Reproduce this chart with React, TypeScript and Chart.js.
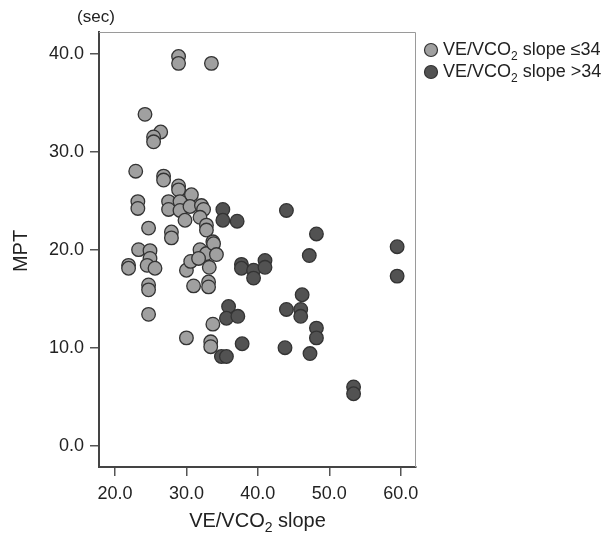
import { useEffect, useRef } from 'react';
import { Chart, registerables } from 'chart.js';

Chart.register(...registerables);

// VE/VCO2 slope <= 34
const lowX = [28.9, 28.9, 33.5, 24.2, 26.4, 25.4, 25.4, 22.9, 26.8, 26.8, 28.9, 28.9, 30.7, 23.2, 23.2, 27.5, 27.5, 29.1, 29.1, 29.8, 30.5, 32.1, 32.4, 31.9, 32.8, 32.8, 24.7, 27.9, 27.9, 33.7, 23.3, 24.9, 24.9, 24.5, 25.6, 21.9, 21.9, 30.0, 30.6, 31.9, 32.8, 33.8, 34.2, 31.7, 33.2, 31.0, 33.1, 33.1, 24.7, 24.7, 24.7, 33.7, 30.0, 33.4, 33.4];
const lowY = [39.7, 39.0, 39.0, 33.8, 32.0, 31.5, 31.0, 28.0, 27.5, 27.1, 26.5, 26.1, 25.6, 24.9, 24.2, 24.9, 24.1, 24.9, 24.0, 23.0, 24.4, 24.5, 24.1, 23.3, 22.5, 22.0, 22.2, 21.8, 21.2, 20.8, 20.0, 19.9, 19.1, 18.4, 18.1, 18.4, 18.1, 17.9, 18.8, 20.0, 19.6, 20.6, 19.5, 19.1, 18.2, 16.3, 16.7, 16.2, 16.4, 15.9, 13.4, 12.4, 11.0, 10.6, 10.1];

// VE/VCO2 slope > 34
const highX = [35.1, 35.1, 37.1, 44.0, 48.2, 59.5, 59.5, 47.2, 37.7, 37.7, 39.4, 39.4, 41.0, 41.0, 35.9, 35.6, 37.2, 37.8, 34.9, 35.6, 46.2, 44.0, 46.0, 46.0, 48.2, 48.2, 43.8, 47.3, 53.4, 53.4];
const highY = [24.1, 23.0, 22.9, 24.0, 21.6, 20.3, 17.3, 19.4, 18.5, 18.1, 17.9, 17.1, 18.9, 18.2, 14.2, 13.0, 13.2, 10.4, 9.1, 9.1, 15.4, 13.9, 13.9, 13.2, 12.0, 11.0, 10.0, 9.4, 6.0, 5.3];

const xTicks = [20, 30, 40, 50, 60];
const yTicks = [0, 10, 20, 30, 40];
const seriesLabels = ['VE/VCO2 slope ≤34', 'VE/VCO2 slope >34'];
const xTitle = 'VE/VCO2 slope';
const yTitle = 'MPT';
const yUnit = '(sec)';

const FONT = "'Liberation Sans', Arial, Helvetica, sans-serif";
const LIGHT = '#a0a0a0';
const DARK = '#525252';
const EDGE = '#333333';

function drawRich(ctx: CanvasRenderingContext2D, text: string, x: number, y: number, size: number, align: 'left' | 'center') {
  // subscript the "2" in "CO2"
  const parts: { t: string; sub: boolean }[] = [];
  const idx = text.indexOf('CO2');
  if (idx >= 0) {
    parts.push({ t: text.slice(0, idx + 2), sub: false });
    parts.push({ t: '2', sub: true });
    parts.push({ t: text.slice(idx + 3), sub: false });
  } else {
    parts.push({ t: text, sub: false });
  }
  const subSize = Math.round(size * 0.68);
  let total = 0;
  for (const p of parts) {
    ctx.font = `${p.sub ? subSize : size}px ${FONT}`;
    total += ctx.measureText(p.t).width;
  }
  let cx = align === 'center' ? x - total / 2 : x;
  ctx.textAlign = 'left';
  ctx.textBaseline = 'middle';
  for (const p of parts) {
    ctx.font = `${p.sub ? subSize : size}px ${FONT}`;
    ctx.fillText(p.t, cx, p.sub ? y + size * 0.38 : y);
    cx += ctx.measureText(p.t).width;
  }
}

const decorPlugin = {
  id: 'decor',
  beforeDatasetsDraw(chart: any) {
    const { ctx, chartArea } = chart;
    ctx.save();
    ctx.strokeStyle = '#9a9a9a';
    ctx.lineWidth = 1;
    ctx.beginPath();
    ctx.moveTo(chartArea.left, chartArea.top + 0.5);
    ctx.lineTo(chartArea.right - 0.5, chartArea.top + 0.5);
    ctx.lineTo(chartArea.right - 0.5, chartArea.bottom);
    ctx.stroke();
    ctx.restore();
  },
  afterDraw(chart: any) {
    const { ctx, chartArea } = chart;
    ctx.save();
    ctx.fillStyle = '#222222';
    // unit label
    ctx.font = `17px ${FONT}`;
    ctx.textAlign = 'center';
    ctx.textBaseline = 'middle';
    ctx.fillText(yUnit, 96, 17);
    // y title
    ctx.save();
    ctx.translate(21, 251);
    ctx.rotate(-Math.PI / 2);
    ctx.font = `20px ${FONT}`;
    ctx.fillText(yTitle, 0, 0);
    ctx.restore();
    // x title
    drawRich(ctx, xTitle, (chartArea.left + chartArea.right) / 2, 521, 20, 'center');
    // legend
    const colors = [LIGHT, DARK];
    const rows = [50, 72];
    seriesLabels.forEach((lab, i) => {
      ctx.beginPath();
      ctx.arc(431, rows[i], 6.5, 0, Math.PI * 2);
      ctx.fillStyle = colors[i];
      ctx.fill();
      ctx.lineWidth = 1.2;
      ctx.strokeStyle = EDGE;
      ctx.stroke();
      ctx.fillStyle = '#222222';
      drawRich(ctx, lab, 443, rows[i], 18, 'left');
    });
    ctx.restore();
  },
};

export default function App() {
  const ref = useRef<HTMLCanvasElement | null>(null);
  useEffect(() => {
    document.body.style.margin = '0';
    const canvas = ref.current;
    if (!canvas) return;
    const toPts = (xs: number[], ys: number[]) => xs.map((x, i) => ({ x, y: ys[i] }));
    const chart = new Chart(canvas, {
      type: 'scatter',
      data: {
        datasets: [
          {
            label: seriesLabels[0],
            data: toPts(lowX, lowY),
            backgroundColor: LIGHT,
            borderColor: EDGE,
            borderWidth: 1.3,
            pointRadius: 6.8,
          },
          {
            label: seriesLabels[1],
            data: toPts(highX, highY),
            backgroundColor: DARK,
            borderColor: EDGE,
            borderWidth: 1.3,
            pointRadius: 6.8,
          },
        ],
      },
      options: {
        responsive: false,
        animation: false,
        events: [],
        layout: { padding: { left: 0, top: 32, right: 194, bottom: 0 } },
        plugins: { legend: { display: false }, tooltip: { enabled: false }, title: { display: false } },
        scales: {
          x: {
            type: 'linear',
            min: 17.76,
            max: 62.14,
            afterBuildTicks: (axis: any) => {
              axis.ticks = xTicks.map((v) => ({ value: v }));
            },
            afterFit: (scale: any) => {
              scale.height = 79;
            },
            ticks: {
              color: '#222222',
              font: { family: FONT, size: 18 },
              padding: 7,
              maxRotation: 0,
              callback: (v: any) => Number(v).toFixed(1),
            },
            grid: { drawOnChartArea: false, drawTicks: true, tickLength: 9, color: '#555555', lineWidth: 1.5 },
            border: { display: true, color: '#444444', width: 2 },
          },
          y: {
            type: 'linear',
            min: -2.17,
            max: 42.2,
            afterBuildTicks: (axis: any) => {
              axis.ticks = yTicks.map((v) => ({ value: v }));
            },
            afterFit: (scale: any) => {
              scale.width = 99;
            },
            ticks: {
              color: '#222222',
              font: { family: FONT, size: 18 },
              padding: 6,
              callback: (v: any) => Number(v).toFixed(1),
            },
            grid: { drawOnChartArea: false, drawTicks: true, tickLength: 9, color: '#555555', lineWidth: 1.5 },
            border: { display: true, color: '#444444', width: 2 },
          },
        },
      },
      plugins: [decorPlugin],
    });
    return () => chart.destroy();
  }, []);
  return <canvas ref={ref} width={610} height={546} style={{ display: 'block' }} />;
}
